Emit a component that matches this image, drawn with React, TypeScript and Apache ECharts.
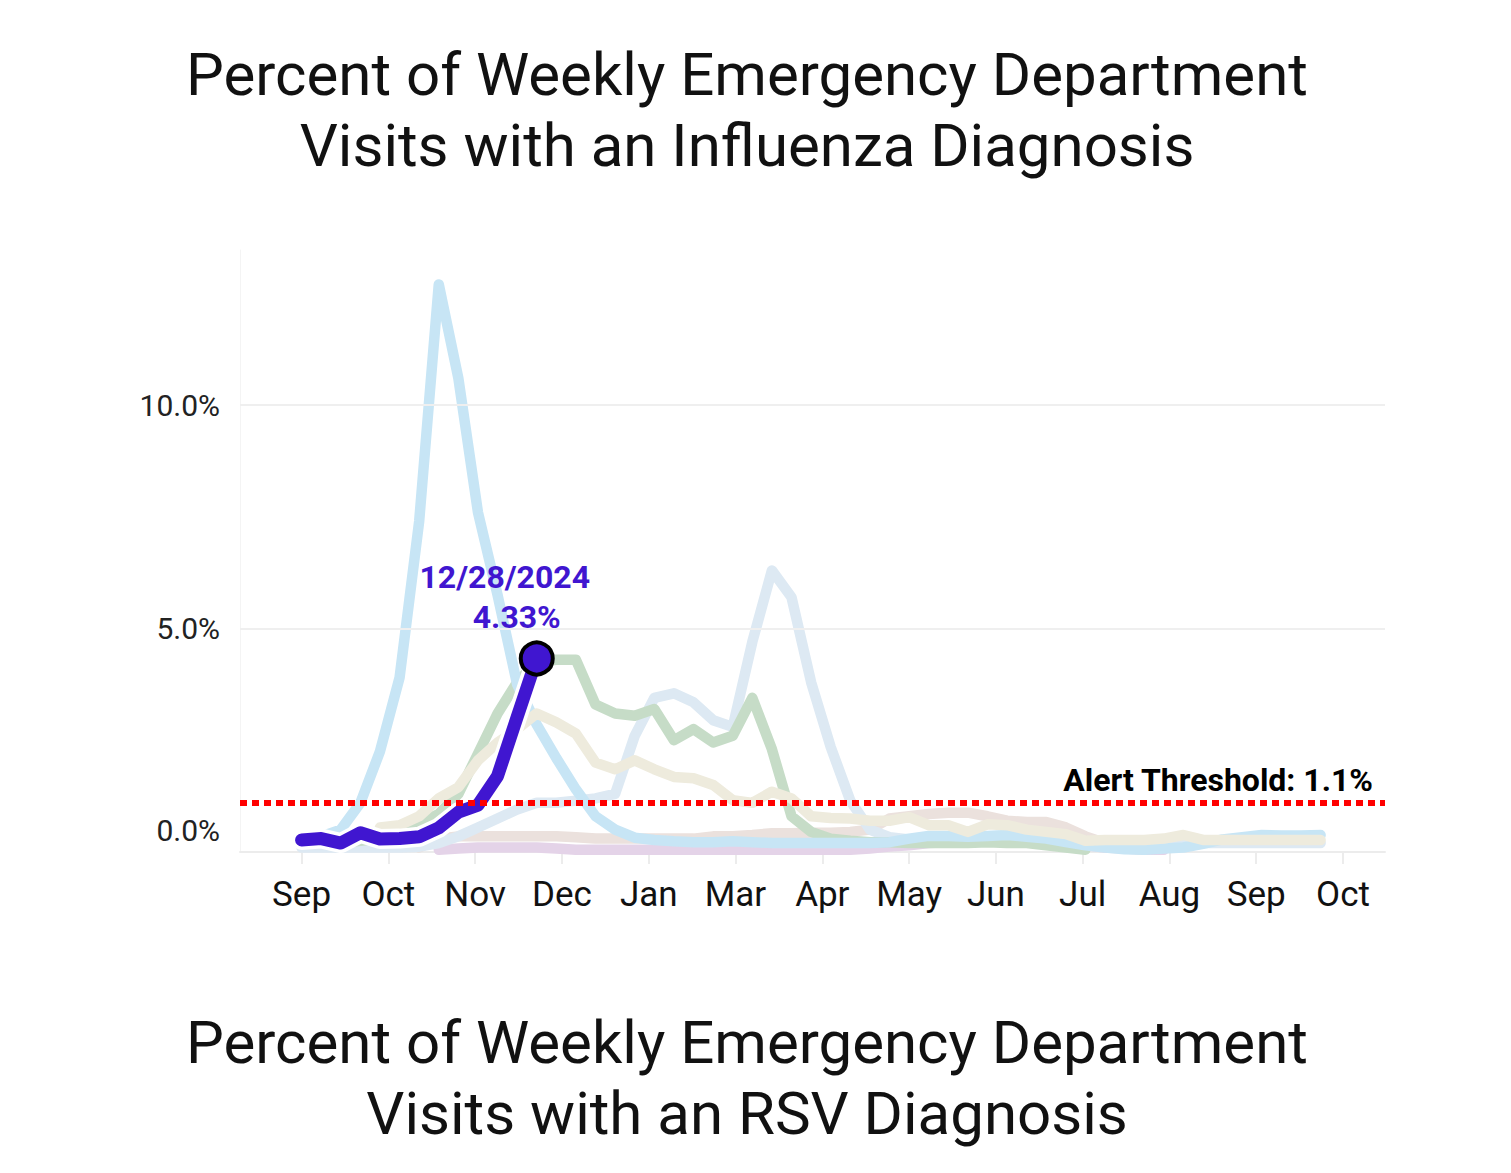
import React, { useEffect, useRef } from "react";
import * as echarts from "echarts";

// ---- data (weekly, week index 0..52, 7 days apart) ----
const seasonA = [0.3, 0.35, 0.5, 1.1, 2.25, 3.9, 7.4, 12.7, 10.6, 7.6,
  5.75, 3.75, 2.85, 2.1, 1.4, 0.8, 0.5, 0.32, 0.27, 0.24,
  0.22, 0.22, 0.24, 0.22, 0.2, 0.2, 0.2, 0.2, 0.2, 0.2,
  0.22, 0.3, 0.36, 0.36, 0.34, 0.36, 0.38, 0.34, 0.3, 0.22,
  0.15, 0.1, 0.06, 0.05, 0.08, 0.1, 0.18, 0.28, 0.33, 0.38,
  0.37, 0.37, 0.38];
const seasonB = [0.1, 0.1, 0.1, 0.1, 0.1, 0.1, 0.12, 0.2, 0.35, 0.55,
  0.75, 0.95, 1.1, 1.1, 1.15, 1.2, 1.3, 2.6, 3.45, 3.55,
  3.35, 2.95, 2.8, 4.7, 6.3, 5.7, 3.8, 2.35, 1.15, 0.5,
  0.33, 0.28, 0.26, 0.25, 0.25, 0.25, 0.25, 0.25, 0.22, 0.2,
  0.2, 0.2, 0.2, 0.2, 0.2, 0.2, 0.2, 0.2, 0.2, 0.2,
  0.2, 0.2, 0.2];
const seasonC = [0.2, 0.2, 0.2, 0.25, 0.3, 0.4, 0.65, 0.85, 1.3, 2.2,
  3.1, 3.8, 4.25, 4.3, 4.3, 3.3, 3.1, 3.05, 3.2, 2.5,
  2.75, 2.45, 2.6, 3.45, 2.3, 0.8, 0.45, 0.3, 0.25, 0.22,
  0.22, 0.2, 0.2, 0.2, 0.2, 0.22, 0.2, 0.2, 0.15, 0.1,
  0.05, null, null, null, null, null, null, null, null, null,
  null, null, null];
const seasonD = [null, null, null, null, 0.55, 0.6, 0.8, 1.2, 1.45, 2.05,
  2.45, 2.75, 3.1, 2.9, 2.65, 2.0, 1.85, 2.05, 1.85, 1.68,
  1.65, 1.5, 1.16, 1.1, 1.35, 1.2, 0.8, 0.76, 0.75, 0.7,
  0.7, 0.78, 0.6, 0.6, 0.45, 0.62, 0.6, 0.5, 0.45, 0.4,
  0.25, 0.27, 0.27, 0.27, 0.3, 0.38, 0.27, 0.27, 0.27, 0.27,
  0.27, 0.27, 0.27];
const seasonE = [null, null, null, null, null, null, 0.1, 0.3, 0.35, 0.35,
  0.35, 0.35, 0.35, 0.35, 0.33, 0.3, 0.3, 0.3, 0.3, 0.3,
  0.3, 0.35, 0.35, 0.38, 0.42, 0.42, 0.43, 0.43, 0.45, 0.5,
  0.75, 0.8, 0.85, 0.88, 0.88, 0.8, 0.7, 0.67, 0.67, 0.55,
  0.35, 0.2, 0.1, 0.05, null, null, null, null, null, null,
  null, null, null];
const seasonF = [null, null, null, null, null, null, null, 0.05, 0.08, 0.1,
  0.1, 0.1, 0.1, 0.08, 0.05, 0.05, 0.05, 0.05, 0.05, 0.05,
  0.05, 0.05, 0.05, 0.05, 0.05, 0.05, 0.05, 0.05, 0.05, 0.08,
  0.12, 0.15, 0.2, 0.22, 0.25, 0.25, 0.22, 0.25, 0.25, 0.22,
  0.15, 0.1, 0.08, 0.05, 0.05, null, null, null, null, null,
  null, null, null];
const current = [0.27, 0.30, 0.20, 0.43, 0.29, 0.30, 0.34, 0.54, 0.89, 1.05, 1.70, 3.02, 4.33];
const currentDateLabel = "12/28/2024";
const alertThreshold = 1.1;

const xTickDays = [0, 31, 62, 93, 124, 155, 186, 217, 248, 279, 310, 341, 372];
const xTickLabels = ["Sep", "Oct", "Nov", "Dec", "Jan", "Mar", "Apr", "May", "Jun", "Jul", "Aug", "Sep", "Oct"];
const yTicks = [0, 5, 10];
const gridValues = [5, 10];

const FONT = "Roboto";
const PURPLE = "#4016d0";

const toPts = (arr: (number | null)[]) =>
  arr.map((v, i) => [i * 7, v]).filter((d) => d[1] !== null);

const faded = (name: string, arr: (number | null)[], color: string) => ({
  name,
  type: "line",
  data: toPts(arr),
  showSymbol: false,
  symbol: "none",
  silent: true,
  z: 2,
  lineStyle: { width: 10.5, color, cap: "round", join: "round" },
});

const titleStyle = { fontFamily: FONT, fontSize: 60, fontWeight: "normal", color: "#111", lineHeight: 71 };

export default function App() {
  const ref = useRef<HTMLDivElement>(null);
  useEffect(() => {
    if (!ref.current) return;
    const chart = echarts.init(ref.current, null, { renderer: "svg" });
    const last = current.length - 1;
    const option: any = {
      animation: false,
      backgroundColor: "#fff",
      title: [
        {
          text: "Percent of Weekly Emergency Department\nVisits with an Influenza Diagnosis",
          left: 742,
          top: 34,
          textAlign: "center",
          textStyle: titleStyle,
        },
        {
          text: "Percent of Weekly Emergency Department\nVisits with an RSV Diagnosis",
          left: 742,
          top: 1002,
          textAlign: "center",
          textStyle: titleStyle,
        },
      ],
      grid: { left: 240, top: 250, right: 126, bottom: 321, containLabel: false },
      xAxis: {
        type: "value",
        min: -22,
        max: 387,
        axisLine: { show: true, lineStyle: { color: "#ececec", width: 2 } },
        axisTick: { show: true, customValues: xTickDays, length: 12, lineStyle: { color: "#ececec", width: 2 } },
        axisLabel: {
          customValues: xTickDays,
          formatter: (v: number) => xTickLabels[Math.round(v / 31)] ?? "",
          fontFamily: FONT,
          fontSize: 35,
          color: "#111",
          margin: 25,
        },
        splitLine: { show: false },
      },
      yAxis: {
        type: "value",
        min: 0,
        max: 13.47,
        axisLine: { show: true, onZero: false, lineStyle: { color: "#f4f4f4", width: 1 } },
        axisTick: { show: false },
        splitLine: { show: false },
        axisLabel: {
          customValues: yTicks,
          formatter: (v: number) => (v === 0 ? "{z|0.0%}" : v.toFixed(1) + "%"),
          fontFamily: FONT,
          fontSize: 30,
          color: "#222",
          margin: 20,
          rich: { z: { fontFamily: FONT, fontSize: 30, color: "#222", padding: [0, 0, 44, 0] } },
        },
      },
      series: [
        {
          name: "grid",
          type: "line",
          data: [],
          z: 1,
          silent: true,
          markLine: {
            silent: true,
            symbol: ["none", "none"],
            label: { show: false },
            lineStyle: { color: "#efefef", width: 2, type: "solid" },
            data: gridValues.map((v) => ({ yAxis: v })),
          },
        },
        faded("F", seasonF, "#e4d3e8"),
        faded("E", seasonE, "#ebe1dd"),
        faded("B", seasonB, "#dde9f3"),
        faded("C", seasonC, "#c6dcc7"),
        faded("A", seasonA, "#c7e5f5"),
        faded("D", seasonD, "#eeebdd"),
        {
          name: "halo",
          type: "line",
          data: toPts(current),
          showSymbol: false,
          symbol: "none",
          silent: true,
          z: 3,
          lineStyle: { width: 20, color: "#ffffff", cap: "round", join: "round" },
        },
        {
          name: "current",
          type: "line",
          data: toPts(current),
          showSymbol: false,
          symbol: "none",
          silent: true,
          z: 4,
          lineStyle: { width: 13, color: PURPLE, cap: "round", join: "round" },
        },
        {
          name: "threshold",
          type: "line",
          data: [],
          z: 5,
          silent: true,
          markLine: {
            silent: true,
            symbol: ["none", "none"],
            lineStyle: { color: "#ff0000", width: 6, type: [7, 5] },
            label: {
              show: true,
              position: "insideEndTop",
              formatter: "Alert Threshold: " + alertThreshold + "%",
              fontFamily: FONT,
              fontSize: 32,
              fontWeight: "bold",
              color: "#000",
              distance: [12, 7],
            },
            data: [{ yAxis: alertThreshold }],
          },
        },
        {
          name: "marker",
          type: "scatter",
          z: 6,
          silent: true,
          data: [[last * 7, current[last]]],
          symbol: "circle",
          symbolSize: 32,
          itemStyle: { color: PURPLE, borderColor: "#000", borderWidth: 4, opacity: 1 },
          label: {
            show: true,
            position: "top",
            distance: 3,
            offset: [-32, 0],
            formatter: "{a|" + currentDateLabel + "}\n{b|" + current[last].toFixed(2) + "%}",
            rich: {
              a: { fontFamily: FONT, fontSize: 32, fontWeight: "bold", color: PURPLE, lineHeight: 40 },
              b: { fontFamily: FONT, fontSize: 32, fontWeight: "bold", color: PURPLE, lineHeight: 40, padding: [0, 0, 0, 24] },
            },
          },
        },
      ],
    };
    chart.setOption(option);
    return () => chart.dispose();
  }, []);
  return (
    <div
      ref={ref}
      style={{ position: "fixed", left: 0, top: 0, width: 1511, height: 1173, background: "#fff" }}
    />
  );
}
